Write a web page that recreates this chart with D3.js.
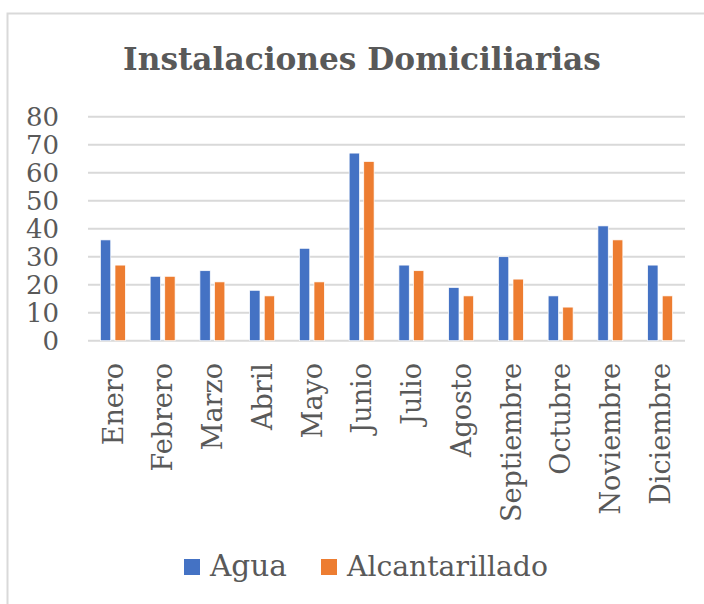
<!DOCTYPE html>
<html>
<head>
<meta charset="utf-8">
<script src="https://cdn.jsdelivr.net/npm/d3@7"></script>
<style>
  body { margin: 0; background: #fff; }
  text { font-family: "DejaVu Serif", serif; fill: #595959; }
</style>
</head>
<body>
<svg id="chart" width="704" height="604"></svg>
<script>
var months = ['Enero', 'Febrero', 'Marzo', 'Abril', 'Mayo', 'Junio', 'Julio',
  'Agosto', 'Septiembre', 'Octubre', 'Noviembre', 'Diciembre'];
var agua = [36, 23, 25, 18, 33, 67, 27, 19, 30, 16, 41, 27];
var alcantarillado = [27, 23, 21, 16, 21, 64, 25, 16, 22, 12, 36, 16];
var seriesNames = ['Agua', 'Alcantarillado'];
var seriesColors = ['#4472C4', '#ED7D31'];
var yTicks = [0, 10, 20, 30, 40, 50, 60, 70, 80];

var svg = d3.select('#chart');

// chart frame (only top and left edges show)
svg.append('rect')
  .attr('x', 7.5).attr('y', 13.5)
  .attr('width', 760).attr('height', 640)
  .attr('fill', '#fff')
  .attr('stroke', '#d9d9d9')
  .attr('stroke-width', 2);

// shrink/grow font size until text is the wanted width
function fitWidth(sel, w) {
  sel.each(function () {
    var el = d3.select(this);
    var fs = parseFloat(el.style('font-size'));
    var len = this.getComputedTextLength();
    el.style('font-size', (fs * w / len) + 'px');
  });
}

var x = d3.scaleBand().domain(months).range([88, 685]);
var x1 = d3.scaleBand().domain(seriesNames).range([0, x.bandwidth()])
  .paddingInner(0.29).paddingOuter(0.85);
var y = d3.scaleLinear().domain([0, 80]).range([340.7, 116.7]);

// title
svg.append('text')
  .attr('x', 362).attr('y', 70)
  .attr('text-anchor', 'middle')
  .style('font-size', '32px')
  .style('font-weight', 'bold')
  .text('Instalaciones Domiciliarias')
  .call(fitWidth, 478);

// gridlines
svg.append('g').selectAll('line')
  .data(yTicks)
  .join('line')
  .attr('x1', 88).attr('x2', 685)
  .attr('y1', function (d) { return y(d); })
  .attr('y2', function (d) { return y(d); })
  .attr('stroke', '#d9d9d9')
  .attr('stroke-width', 2);

// y labels
svg.append('g').selectAll('text')
  .data(yTicks)
  .join('text')
  .attr('x', 59)
  .attr('y', function (d) { return y(d); })
  .attr('dy', '0.36em')
  .attr('text-anchor', 'end')
  .style('font-size', '26px')
  .text(function (d) { return d; });

// bars
var rows = months.map(function (m, i) {
  return { month: m, values: [agua[i], alcantarillado[i]] };
});

var groups = svg.append('g').selectAll('g')
  .data(rows)
  .join('g')
  .attr('transform', function (d) { return 'translate(' + x(d.month) + ',0)'; });

groups.selectAll('rect')
  .data(function (d) {
    return d.values.map(function (v, j) { return { name: seriesNames[j], value: v, c: seriesColors[j] }; });
  })
  .join('rect')
  .attr('x', function (d) { return x1(d.name); })
  .attr('width', x1.bandwidth())
  .attr('y', function (d) { return y(d.value); })
  .attr('height', function (d) { return y(0) - y(d.value); })
  .attr('fill', function (d) { return d.c; })
  .attr('stroke', '#fff')
  .attr('stroke-width', 0.7);

// month labels, rotated
var xl = svg.append('g').selectAll('text')
  .data(months)
  .join('text')
  .attr('text-anchor', 'end')
  .attr('transform', function (d) {
    return 'translate(' + (x(d) + x.bandwidth() / 2) + ',363) rotate(-90)';
  })
  .attr('dy', '0.36em')
  .style('font-size', '27px')
  .text(function (d) { return d; });
// scale all labels by the same factor, based on Septiembre
var sep = xl.filter(function (d) { return d == 'Septiembre'; }).node();
var k = 159 / sep.getComputedTextLength();
xl.style('font-size', (27 * k) + 'px');

// legend
var legendX = [184, 321];
var legendW = [77, 201];
var lg = svg.append('g').selectAll('g')
  .data(seriesNames)
  .join('g')
  .attr('transform', function (d, i) { return 'translate(' + legendX[i] + ',559)'; });

lg.append('rect')
  .attr('width', 16).attr('height', 16)
  .attr('fill', function (d, i) { return seriesColors[i]; });

lg.append('text')
  .attr('x', 26).attr('y', 17)
  .style('font-size', '27px')
  .text(function (d) { return d; })
  .each(function (d, i) { d3.select(this).call(fitWidth, legendW[i]); });
</script>
</body>
</html>
